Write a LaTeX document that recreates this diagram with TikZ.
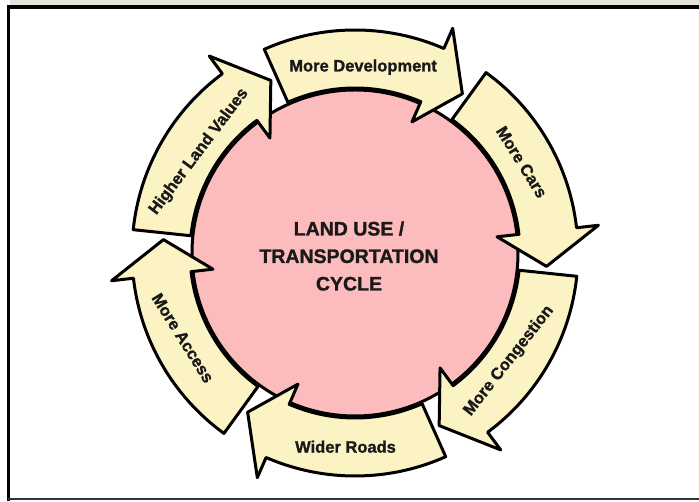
\documentclass[tikz,border=0pt]{standalone}
\usepackage{fontspec}
\setmainfont{Liberation Sans}
\newfontfamily\heavyfont{Liberation Sans}[BoldFeatures={FakeBold=1.2}]
\usetikzlibrary{positioning}
\definecolor{CyclePink}{RGB}{252, 188, 190}
\definecolor{ArrowCream}{RGB}{251, 243, 196}
\definecolor{TopGray}{RGB}{228, 226, 218}

% curved arrow round the circle, #1 = angle of its tail
\newcommand{\cyclearrow}[1]{%
  \pgfmathsetmacro{\arrbarb}{#1-47.5}%
  \pgfmathsetmacro{\arrtip}{#1-58}%
  \draw[line width=3pt, fill=ArrowCream, line join=round]
    (#1:223) arc[start angle=#1, end angle=\arrbarb, radius=223]
    -- (\arrbarb:245) -- (\arrtip:192) -- (\arrbarb:143) -- (\arrbarb:165)
    arc[start angle=\arrbarb, end angle=#1, radius=165] -- cycle;
}

\begin{document}
\begin{tikzpicture}[x=1pt, y=1pt,
    arrowtext/.style={font=\heavyfont\bfseries\fontsize{16.5}{19}\selectfont, text=black!90}]
        \useasboundingbox (-355,-249) rectangle (344,253);

        % frame
        \fill[TopGray] (-345,253) rectangle (344,248);
        \draw[line width=3.5pt] (-348,246) -- (344,246);
        \draw[line width=3pt] (-346.5,247.5) -- (-346.5,-248);
        \draw[line width=2pt, black!80] (-347,-246.5) -- (344,-246.5);

        \node[draw, circle, line width=3pt, fill=CyclePink, minimum size=326pt, inner sep=0pt] (cycle) at (0,0) {};

        \cyclearrow{114}
        \cyclearrow{54}
        \cyclearrow{-6}
        \cyclearrow{-66}
        \cyclearrow{-126}
        \cyclearrow{174}

        \node[align=center, text=black!90, font=\heavyfont\bfseries\fontsize{19.5}{27.5}\selectfont] (title) at (-6,-3) {LAND USE /\\TRANSPORTATION\\CYCLE};

        \node[arrowtext] (dev) at (87.5:186) {More Development};
        \node[arrowtext, rotate=-58] (cars) at (28.6:190) {More Cars};
        \node[arrowtext, rotate=52] (cong) at (-35:188) {More Congestion};
        \node[arrowtext] (roads) at (-92.8:194) {Wider Roads};
        \node[arrowtext, rotate=-58] (access) at (-153.7:192) {More Access};
        \node[arrowtext, rotate=53] (values) at (147:186) {Higher Land Values};
    \end{tikzpicture}
\end{document}
